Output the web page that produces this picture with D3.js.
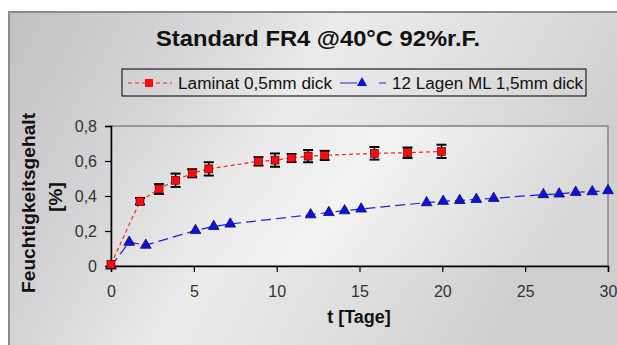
<!DOCTYPE html>
<html>
<head>
<meta charset="utf-8">
<script src="https://cdn.jsdelivr.net/npm/d3@7"></script>
<style>
  body { margin: 0; background: #fff; }
  svg { display: block; font-family: "Liberation Sans", Arial, sans-serif; }
</style>
</head>
<body>
<svg id="chart"></svg>
<script>
const width = 617, height = 345;

// Laminat 0,5mm dick (red squares, with error bars)
const lamDays = [0, 1.75, 2.9, 3.9, 4.9, 5.9, 8.9, 9.9, 10.9, 11.9, 12.9, 15.9, 17.9, 19.95];
const lamVals = [0.01, 0.37, 0.44, 0.49, 0.53, 0.555, 0.598, 0.605, 0.617, 0.628, 0.632, 0.644, 0.647, 0.655];
const lamErr  = [0, 0.018, 0.028, 0.038, 0.023, 0.038, 0.024, 0.038, 0.023, 0.035, 0.026, 0.036, 0.03, 0.038];

// 12 Lagen ML 1,5mm dick (blue triangles)
const mlDays = [0, 1.1, 2.1, 5.1, 6.2, 7.2, 12.05, 13.15, 14.1, 15.1, 19.05, 20.05, 21.05, 22.05, 23.1, 26.1, 27.05, 28.05, 29.05, 30];
const mlVals = [0, 0.136, 0.119, 0.203, 0.226, 0.24, 0.293, 0.306, 0.316, 0.326, 0.362, 0.37, 0.375, 0.381, 0.387, 0.408, 0.412, 0.421, 0.425, 0.431];

const xTicks = [0, 5, 10, 15, 20, 25, 30];
const yTicks = [0, 0.2, 0.4, 0.6, 0.8];

const svg = d3.select("#chart").attr("width", width).attr("height", height);
const defs = svg.append("defs");

// brushed metal look
const bg = defs.append("linearGradient").attr("id", "bg").attr("x1", 0).attr("x2", 1).attr("y1", 0).attr("y2", 0.3);
[[0, "#c2c0c3"], [0.3, "#d6d5d7"], [0.5, "#ebebeb"], [0.62, "#e6e6e6"], [0.85, "#d9d9d9"], [1, "#cfcfcf"]]
  .forEach(s => bg.append("stop").attr("offset", s[0]).attr("stop-color", s[1]));

const pg = defs.append("linearGradient").attr("id", "pg").attr("x1", 0).attr("x2", 1).attr("y1", 0).attr("y2", 0.2);
[[0, "#d3d3d4"], [0.35, "#ececec"], [0.55, "#f3f3f3"], [0.8, "#e4e4e4"], [1, "#d8d8d8"]]
  .forEach(s => pg.append("stop").attr("offset", s[0]).attr("stop-color", s[1]));

svg.append("rect").attr("x", 9).attr("y", 12).attr("width", width - 9).attr("height", height - 12)
  .attr("fill", "url(#bg)");
svg.append("path").attr("d", `M9,${height} V12 H${width}`)
  .attr("fill", "none").attr("stroke", "#868b94").attr("stroke-width", 2);

const x = d3.scaleLinear().domain([0, 30]).range([111, 608]);
const y = d3.scaleLinear().domain([0, 0.8]).range([266, 126]);

// plot area
svg.append("rect").attr("x", 111).attr("y", 126).attr("width", 497).attr("height", 140)
  .attr("fill", "url(#pg)").attr("stroke", "#9a9a9a").attr("stroke-width", 2);

// title
svg.append("text").attr("x", 318).attr("y", 46).attr("text-anchor", "middle")
  .attr("font-size", 22).attr("font-weight", "bold").attr("fill", "#111")
  .attr("textLength", 324).attr("lengthAdjust", "spacingAndGlyphs")
  .text("Standard FR4 @40°C 92%r.F.");

// axes
const xAxis = svg.append("g").attr("transform", "translate(0,266)")
  .call(d3.axisBottom(x).tickValues(xTicks).tickSize(6).tickPadding(14));
const yAxis = svg.append("g").attr("transform", "translate(111,0)")
  .call(d3.axisLeft(y).tickValues(yTicks).tickSize(6).tickPadding(8)
    .tickFormat(d => d === 0 ? "0" : d3.format(".1f")(d).replace(".", ",")));
[xAxis, yAxis].forEach(a => {
  a.select(".domain").attr("stroke", "#000").attr("stroke-width", 1.5);
  a.selectAll(".tick line").attr("stroke", "#000").attr("stroke-width", 1.2);
  a.selectAll(".tick text").attr("font-size", 16).attr("fill", "#333")
    .attr("font-family", "Liberation Sans, Arial, sans-serif");
});

// axis titles
svg.append("text").attr("x", 359).attr("y", 323).attr("text-anchor", "middle")
  .attr("font-size", 18).attr("font-weight", "bold").attr("fill", "#111").text("t [Tage]");
const yl = svg.append("text").attr("transform", "translate(35,203) rotate(-90)")
  .attr("text-anchor", "middle").attr("font-size", 19).attr("font-weight", "bold").attr("fill", "#111");
yl.append("tspan").attr("x", 0).attr("y", 0).attr("textLength", 180).attr("lengthAdjust", "spacingAndGlyphs")
  .text("Feuchtigkeitsgehalt");
yl.append("tspan").attr("x", 6).attr("y", 27).text("[%]");

// series lines
const lamData = lamDays.map((d, i) => ({ t: d, v: lamVals[i], e: lamErr[i] }));
const mlData = mlDays.map((d, i) => ({ t: d, v: mlVals[i] }));
const line = d3.line().x(d => x(d.t)).y(d => y(d.v));

svg.append("path").datum(mlData).attr("d", line).attr("fill", "none")
  .attr("stroke", "#2222cc").attr("stroke-width", 1.2).attr("stroke-dasharray", "10,5");
svg.append("path").datum(lamData).attr("d", line).attr("fill", "none")
  .attr("stroke", "#ff2020").attr("stroke-width", 1.2).attr("stroke-dasharray", "4,3");

// error bars
const eb = svg.append("g").attr("stroke", "#000").attr("stroke-width", 2);
lamData.filter(d => d.e > 0).forEach(d => {
  const cx = x(d.t);
  eb.append("line").attr("x1", cx).attr("x2", cx).attr("y1", y(d.v + d.e)).attr("y2", y(d.v - d.e)).attr("stroke-width", 1.5);
  eb.append("line").attr("x1", cx - 5).attr("x2", cx + 5).attr("y1", y(d.v + d.e)).attr("y2", y(d.v + d.e));
  eb.append("line").attr("x1", cx - 5).attr("x2", cx + 5).attr("y1", y(d.v - d.e)).attr("y2", y(d.v - d.e));
});

// markers
svg.append("g").selectAll("path").data(mlData).join("path")
  .attr("transform", d => `translate(${x(d.t)},${y(d.v)})`)
  .attr("d", d3.symbol(d3.symbolTriangle, 50))
  .attr("fill", "#0a10e6").attr("stroke", "#101050").attr("stroke-width", 0.8);
svg.append("g").selectAll("rect").data(lamData).join("rect")
  .attr("x", d => x(d.t) - 4).attr("y", d => y(d.v) - 4).attr("width", 8).attr("height", 8)
  .attr("fill", "#ff0a0a").attr("stroke", "#300").attr("stroke-width", 0.6);

// legend
const lg = svg.append("g");
lg.append("rect").attr("x", 122).attr("y", 69).attr("width", 464).attr("height", 27)
  .attr("fill", "none").attr("stroke", "#222").attr("stroke-width", 1.2);
lg.append("line").attr("x1", 128).attr("x2", 172).attr("y1", 83).attr("y2", 83)
  .attr("stroke", "#ff2020").attr("stroke-width", 1.2).attr("stroke-dasharray", "4,3");
lg.append("rect").attr("x", 145).attr("y", 79).attr("width", 8).attr("height", 8).attr("fill", "#ff0a0a");
lg.append("text").attr("x", 178).attr("y", 89).attr("font-size", 16).attr("fill", "#111")
  .attr("textLength", 154).attr("lengthAdjust", "spacingAndGlyphs").text("Laminat 0,5mm dick");
lg.append("line").attr("x1", 340).attr("x2", 386).attr("y1", 83).attr("y2", 83)
  .attr("stroke", "#2222cc").attr("stroke-width", 1.2).attr("stroke-dasharray", "17,22,6,0");
lg.append("path").attr("transform", "translate(362,83)").attr("d", d3.symbol(d3.symbolTriangle, 45)).attr("fill", "#0a10e6");
lg.append("text").attr("x", 392).attr("y", 89).attr("font-size", 16).attr("fill", "#111")
  .attr("textLength", 191).attr("lengthAdjust", "spacingAndGlyphs").text("12 Lagen ML 1,5mm dick");
</script>
</body>
</html>
